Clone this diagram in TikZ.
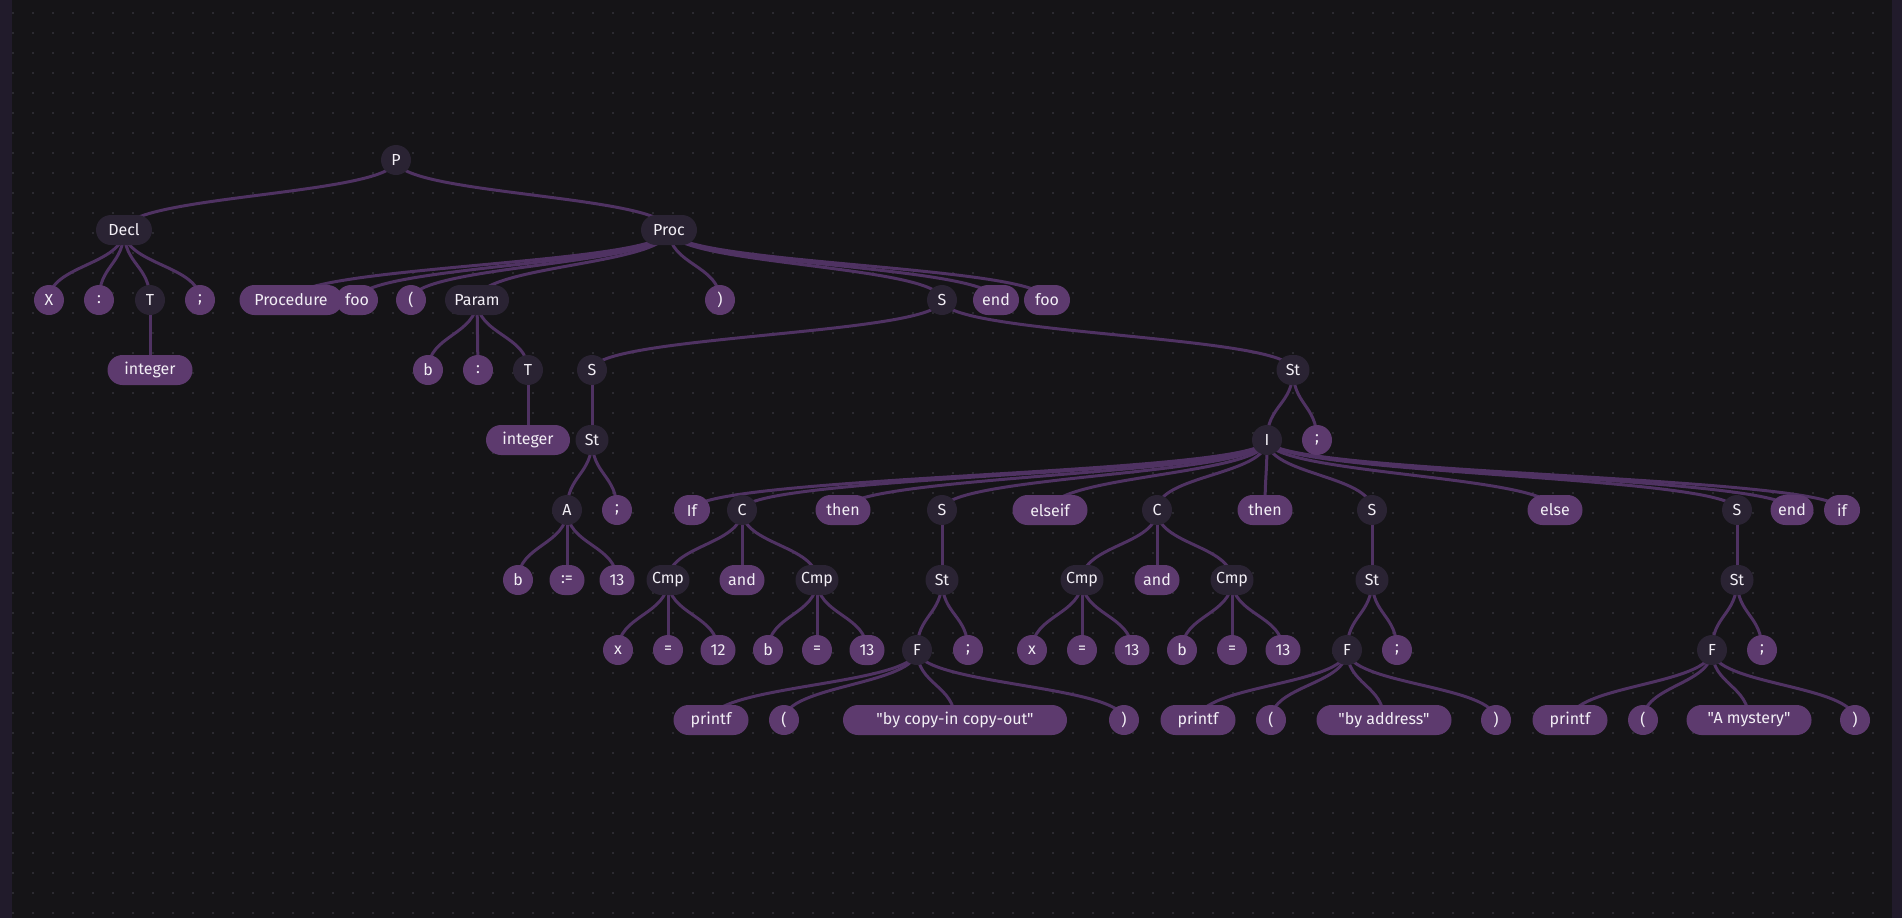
\documentclass[tikz,border=0pt]{standalone}
\usepackage{fontspec}
\setmainfont{Fira Sans}[Ligatures=TeXOff]
\pgfdeclarelayer{bgl}
\pgfdeclarelayer{edgel}
\pgfsetlayers{bgl,edgel,main}
\definecolor{bgcol}{HTML}{151417}
\definecolor{barcol}{HTML}{211B2B}
\definecolor{dotcol}{HTML}{34333A}
\definecolor{ntcol}{HTML}{2A2333}
\definecolor{tmcol}{HTML}{5D3A6E}
\definecolor{edgecol}{HTML}{4F3262}
\definecolor{txtcol}{HTML}{F2EEF5}
\tikzset{
  base/.style={rounded corners=15pt, minimum height=30pt, minimum width=30pt, inner sep=0pt,
    text=txtcol, font=\fontsize{16}{16}\selectfont},
  nt/.style={base, fill=ntcol},
  tm/.style={base, fill=tmcol},
  edge/.style={draw=edgecol, line width=3pt},
}
\begin{document}
\begin{tikzpicture}[x=1pt,y=-1pt]
\useasboundingbox (0,0) rectangle (1902,918);
\begin{pgfonlayer}{bgl}
\fill[bgcol] (0,0) rectangle (1902,918);
\fill[barcol] (0,0) rectangle (12,918);
\fill[barcol] (1892,0) rectangle (1902,918);
\foreach \i in {0,...,93}{\foreach \j in {0,...,45}{\fill[dotcol] (13+20*\i,13+20*\j) circle (1.1);}}
\end{pgfonlayer}
% level 0
\node[nt] (P) at (396,160) {P};
% level 1
\node[nt, minimum width=56] (Decl) at (124,230) {Decl};
\node[nt, minimum width=56] (Proc) at (669,230) {Proc};
% level 2
\node[tm] (X) at (49,300) {X};
\node[tm] (c1) at (99,300) {:};
\node[nt] (T1) at (150,300) {T};
\node[tm] (s1) at (200,300) {;};
\node[tm, minimum width=103] (Procedure) at (291,300) {Procedure};
\node[tm, minimum width=42] (foo1) at (357,300) {foo};
\node[tm] (lp1) at (411,300) {(};
\node[nt, minimum width=64] (Param) at (477,300) {Param};
\node[tm] (rp1) at (720,300) {)};
\node[nt] (S0) at (942,300) {S};
\node[tm, minimum width=46] (end1) at (996,300) {end};
\node[tm, minimum width=46] (foo2) at (1047,300) {foo};
% level 3
\node[tm, minimum width=85] (int1) at (150,370) {integer};
\node[tm] (b1) at (428,370) {b};
\node[tm] (c2) at (478,370) {:};
\node[nt] (T2) at (528,370) {T};
\node[nt] (S1) at (592,370) {S};
\node[nt, minimum width=33] (St0) at (1293,370) {St};
% level 4
\node[tm, minimum width=84] (int2) at (528,440) {integer};
\node[nt, minimum width=33] (St1) at (592,440) {St};
\node[nt] (I) at (1267,440) {I};
\node[tm] (s2) at (1317,440) {;};
% level 5
\node[nt] (A) at (567,510) {A};
\node[tm] (s3) at (617,510) {;};
\node[tm, minimum width=36] (If) at (692,510) {If};
\node[nt] (C1) at (742,510) {C};
\node[tm, minimum width=55] (then1) at (843,510) {then};
\node[nt] (S2) at (942,510) {S};
\node[tm, minimum width=75] (elseif) at (1050,510) {elseif};
\node[nt] (C2) at (1157,510) {C};
\node[tm, minimum width=55] (then2) at (1265,510) {then};
\node[nt] (S3) at (1372,510) {S};
\node[tm, minimum width=55] (else) at (1555,510) {else};
\node[nt] (S4) at (1737,510) {S};
\node[tm, minimum width=43] (end2) at (1792,510) {end};
\node[tm, minimum width=36] (if) at (1842,510) {if};
% level 6
\node[tm] (b2) at (518,580) {b};
\node[tm, minimum width=35] (asg) at (567,580) {:=};
\node[tm, minimum width=35] (n13a) at (617,580) {13};
\node[nt, minimum width=43] (Cmp1) at (668,580) {Cmp};
\node[tm, minimum width=45] (and1) at (742,580) {and};
\node[nt, minimum width=43] (Cmp2) at (817,580) {Cmp};
\node[nt, minimum width=33] (St2) at (942,580) {St};
\node[nt, minimum width=43] (Cmp3) at (1082,580) {Cmp};
\node[tm, minimum width=45] (and2) at (1157,580) {and};
\node[nt, minimum width=43] (Cmp4) at (1232,580) {Cmp};
\node[nt, minimum width=33] (St3) at (1372,580) {St};
\node[nt, minimum width=33] (St4) at (1737,580) {St};
% level 7
\node[tm] (x1) at (618,650) {x};
\node[tm] (eq1) at (668,650) {=};
\node[tm, minimum width=35] (n12) at (718,650) {12};
\node[tm] (b3) at (768,650) {b};
\node[tm] (eq2) at (817,650) {=};
\node[tm, minimum width=35] (n13b) at (867,650) {13};
\node[nt] (F1) at (917,650) {F};
\node[tm] (s4) at (968,650) {;};
\node[tm] (x2) at (1032,650) {x};
\node[tm] (eq3) at (1082,650) {=};
\node[tm, minimum width=35] (n13c) at (1132,650) {13};
\node[tm] (b4) at (1182,650) {b};
\node[tm] (eq4) at (1232,650) {=};
\node[tm, minimum width=35] (n13d) at (1283,650) {13};
\node[nt] (F2) at (1347,650) {F};
\node[tm] (s5) at (1397,650) {;};
\node[nt] (F3) at (1712,650) {F};
\node[tm] (s6) at (1762,650) {;};
% level 8
\node[tm, minimum width=75] (pf1) at (711,720) {printf};
\node[tm] (lp2) at (784,720) {(};
\node[tm, minimum width=224] (str1) at (955,720) {"by copy-in copy-out"};
\node[tm] (rp2) at (1124,720) {)};
\node[tm, minimum width=75] (pf2) at (1198,720) {printf};
\node[tm] (lp3) at (1271,720) {(};
\node[tm, minimum width=135] (str2) at (1384,720) {"by address"};
\node[tm] (rp3) at (1496,720) {)};
\node[tm, minimum width=75] (pf3) at (1570,720) {printf};
\node[tm] (lp4) at (1643,720) {(};
\node[tm, minimum width=125] (str3) at (1749,720) {"A mystery"};
\node[tm] (rp4) at (1855,720) {)};
% edges
\begin{pgfonlayer}{edgel}
\foreach \a/\b in {P/Decl,P/Proc,
  Decl/X,Decl/c1,Decl/T1,Decl/s1,T1/int1,
  Proc/Procedure,Proc/foo1,Proc/lp1,Proc/Param,Proc/rp1,Proc/S0,Proc/end1,Proc/foo2,
  Param/b1,Param/c2,Param/T2,T2/int2,
  S0/S1,S0/St0,S1/St1,St1/A,St1/s3,A/b2,A/asg,A/n13a,
  St0/I,St0/s2,
  I/If,I/C1,I/then1,I/S2,I/elseif,I/C2,I/then2,I/S3,I/else,I/S4,I/end2,I/if,
  C1/Cmp1,C1/and1,C1/Cmp2,Cmp1/x1,Cmp1/eq1,Cmp1/n12,Cmp2/b3,Cmp2/eq2,Cmp2/n13b,
  S2/St2,St2/F1,St2/s4,F1/pf1,F1/lp2,F1/str1,F1/rp2,
  C2/Cmp3,C2/and2,C2/Cmp4,Cmp3/x2,Cmp3/eq3,Cmp3/n13c,Cmp4/b4,Cmp4/eq4,Cmp4/n13d,
  S3/St3,St3/F2,St3/s5,F2/pf2,F2/lp3,F2/str2,F2/rp3,
  S4/St4,St4/F3,St4/s6,F3/pf3,F3/lp4,F3/str3,F3/rp4}{
  \draw[edge] (\a.center) .. controls +(0,35) and +(0,-35) .. (\b.center);
}
\end{pgfonlayer}
\end{tikzpicture}
\end{document}
